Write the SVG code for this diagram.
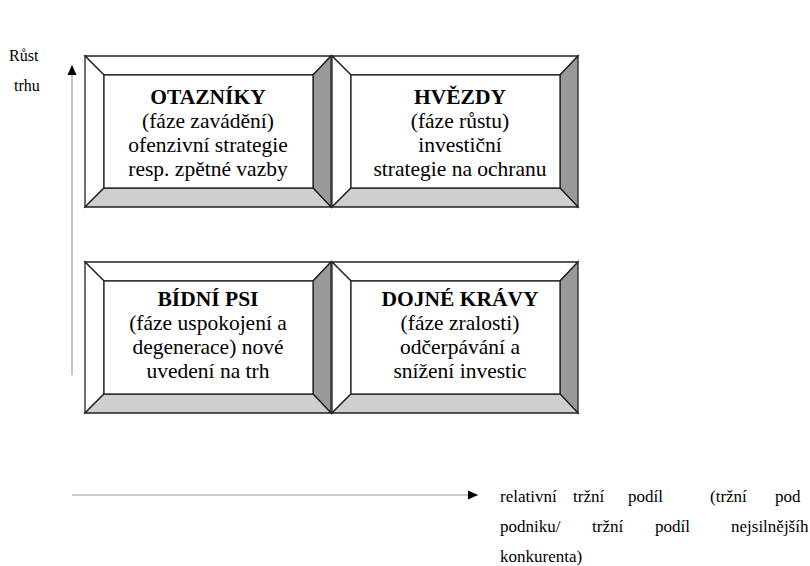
<svg xmlns="http://www.w3.org/2000/svg" width="810" height="566" viewBox="0 0 810 566">
<style>
.bev{stroke:#222;stroke-width:1.3;stroke-linejoin:miter}
.w{fill:#fff}
.r{fill:#999}
.b{fill:#cfcfcf}
.face{fill:#fff;stroke:#222;stroke-width:1.3}
text{font-family:'Liberation Serif','Times New Roman',serif;fill:#000}
.t{text-anchor:middle;font-size:21.5px}
.h{font-weight:bold}
.ax{stroke:#999;stroke-width:1.2;fill:none}
.lbl{font-size:17px}
.ylbl{font-size:16px}
</style>
<defs>
<marker id="ah" markerWidth="10" markerHeight="12" refX="10" refY="5" orient="auto" markerUnits="userSpaceOnUse">
<path d="M0,0.5 L10,5 L0,9.5 Z" fill="#000"/>
</marker>
<g id="bx">
<polygon class="bev w" points="0,0 246,0 228,19 19,19"/>
<polygon class="bev w" points="0,0 19,19 19,132 0,151"/>
<polygon class="bev r" points="246,0 246,151 228,132 228,19"/>
<polygon class="bev b" points="0,151 19,132 228,132 246,151"/>
<rect class="face" x="19" y="19" width="209" height="113"/>
</g>
</defs>
<g id="connectors">
<line class="ax" x1="72" y1="375" x2="72" y2="65" marker-end="url(#ah)"/>
<line class="ax" x1="72" y1="495" x2="478" y2="495" marker-end="url(#ah)"/>
</g>
<g id="axis-y-label">
<text class="ylbl" x="9" y="61">Růst</text>
<text class="ylbl" x="14" y="91">trhu</text>
</g>
<g id="otazniky">
<use href="#bx" x="85" y="56"/>
<text class="t h" x="208" y="104">OTAZNÍKY</text>
<text class="t" x="208" y="128">(fáze zavádění)</text>
<text class="t" x="208" y="152">ofenzivní strategie</text>
<text class="t" x="208" y="176">resp. zpětné vazby</text>
</g>
<g id="hvezdy">
<use href="#bx" x="332" y="56"/>
<text class="t h" x="460" y="104">HVĚZDY</text>
<text class="t" x="460" y="128">(fáze růstu)</text>
<text class="t" x="460" y="152">investiční</text>
<text class="t" x="460" y="176">strategie na ochranu</text>
</g>
<g id="bidni-psi">
<use href="#bx" x="85" y="262"/>
<text class="t h" x="208" y="306">BÍDNÍ PSI</text>
<text class="t" x="208" y="330">(fáze uspokojení a</text>
<text class="t" x="208" y="354">degenerace) nové</text>
<text class="t" x="208" y="378">uvedení na trh</text>
</g>
<g id="dojne-kravy">
<use href="#bx" x="332" y="262"/>
<text class="t h" x="460" y="306">DOJNÉ KRÁVY</text>
<text class="t" x="460" y="330">(fáze zralosti)</text>
<text class="t" x="460" y="354">odčerpávání a</text>
<text class="t" x="460" y="378">snížení investic</text>
</g>
<g id="axis-x-label">
<text class="lbl" x="500" y="502">relativní</text>
<text class="lbl" x="573" y="502">tržní</text>
<text class="lbl" x="628" y="502">podíl</text>
<text class="lbl" x="710" y="502">(tržní</text>
<text class="lbl" x="775" y="502">pod</text>
<text class="lbl" x="500" y="532">podniku/</text>
<text class="lbl" x="592" y="532">tržní</text>
<text class="lbl" x="655" y="532">podíl</text>
<text class="lbl" x="731" y="532">nejsilnějšíh</text>
<text class="lbl" x="500" y="562">konkurenta)</text>
</g>
</svg>
